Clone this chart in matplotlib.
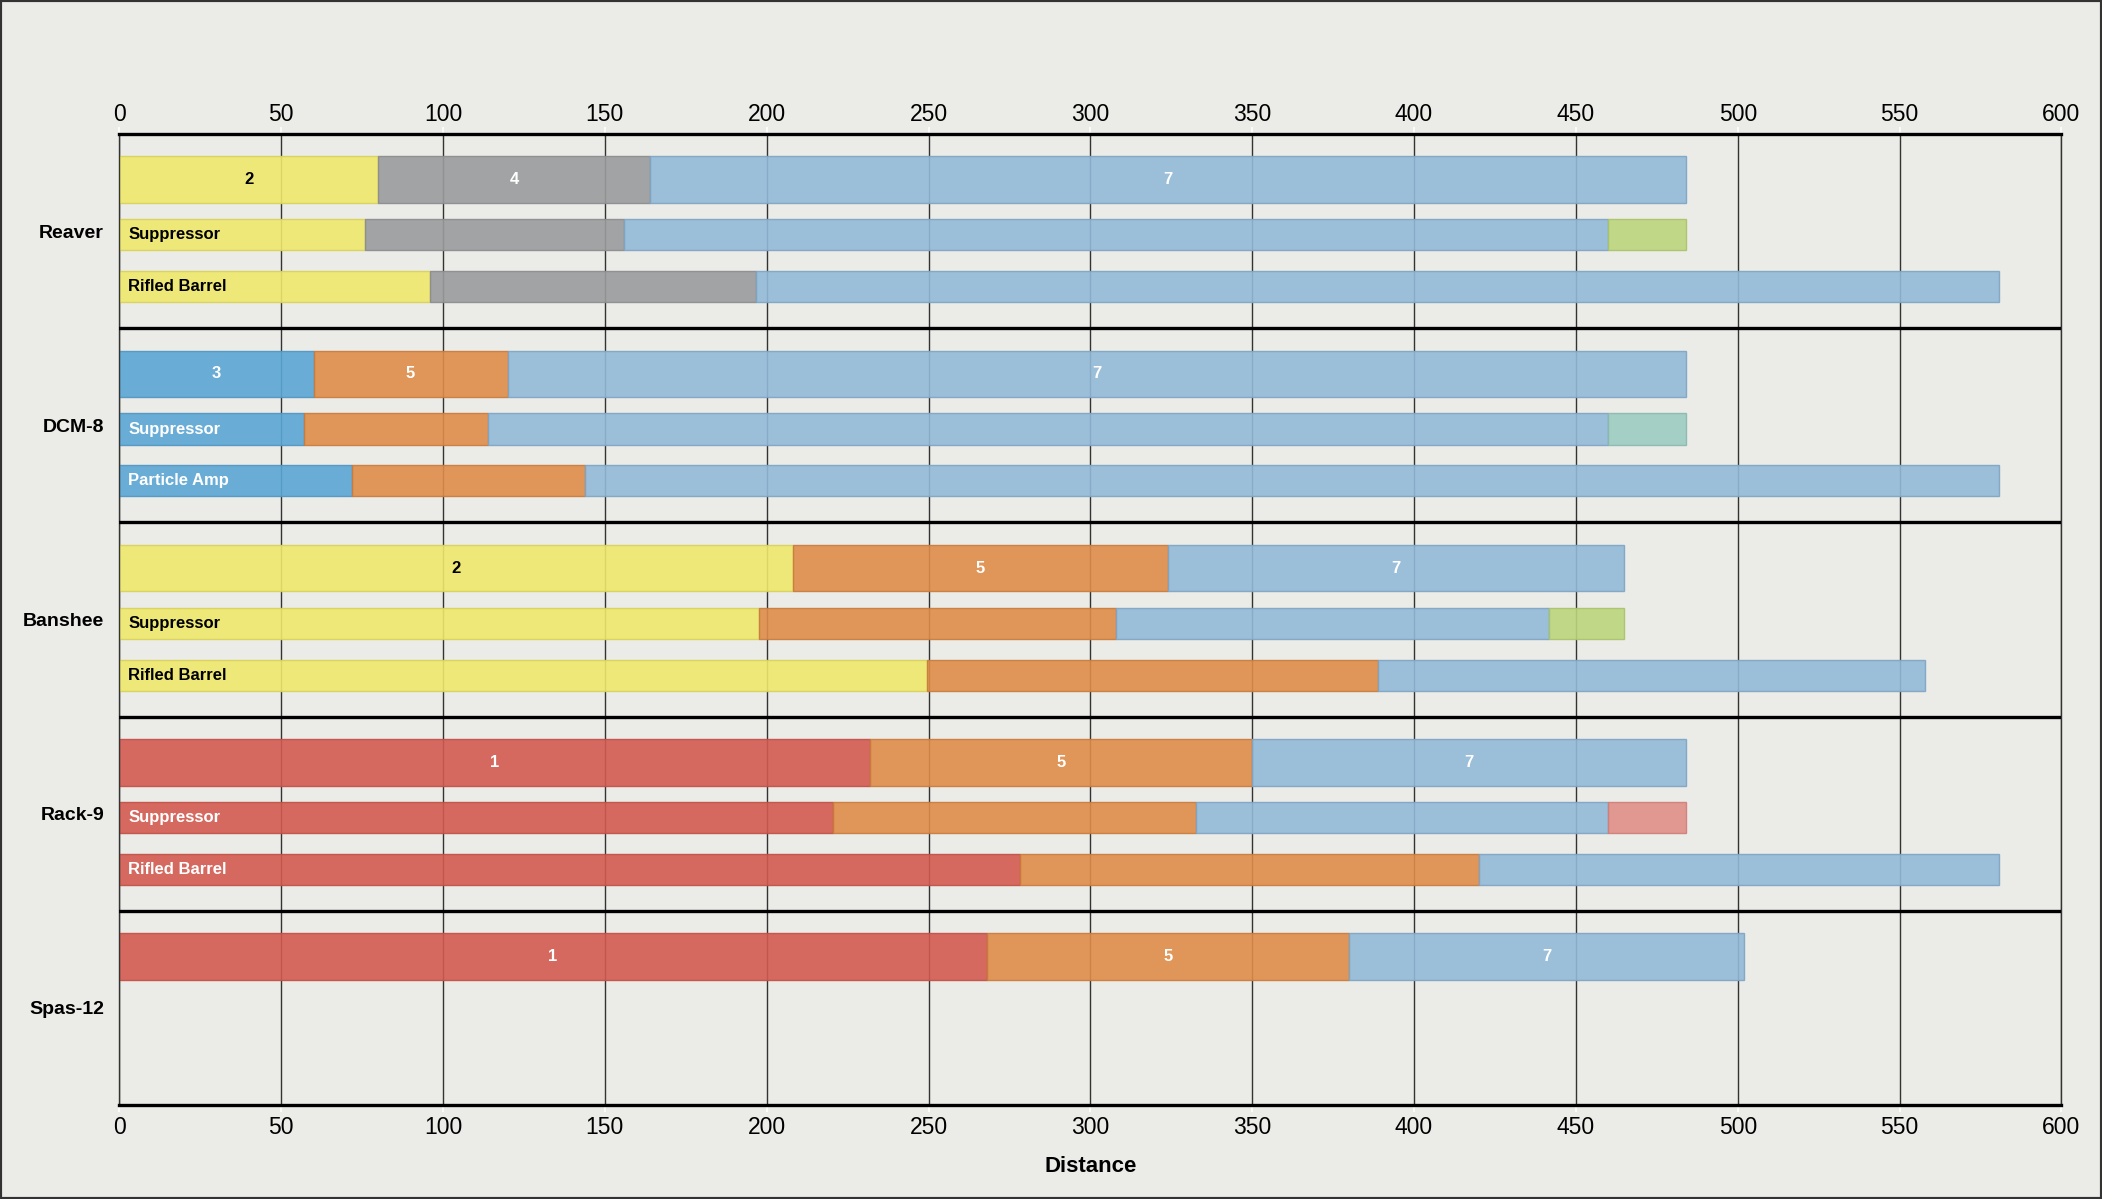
import matplotlib
matplotlib.use("Agg")
import matplotlib.pyplot as plt
from matplotlib.patches import Rectangle

plt.rcParams['font.family'] = ['Liberation Sans', 'DejaVu Sans']

# ---------------- data ----------------
groups = ["Reaver", "DCM-8", "Banshee", "Rack-9", "Spas-12"]

# cumulative range end-points for each row (segments start at previous end-point)
reaver_base = [80, 164, 484]
reaver_suppressor = [76, 155.8, 459.8, 484]
reaver_rifled = [96, 196.8, 580.8]

dcm8_base = [60, 120, 484]
dcm8_suppressor = [57, 114, 459.8, 484]
dcm8_particle = [72, 144, 580.8]

banshee_base = [208, 324, 465]
banshee_suppressor = [197.6, 307.8, 441.75, 465]
banshee_rifled = [249.6, 388.8, 558]

rack9_base = [232, 350, 484]
rack9_suppressor = [220.4, 332.5, 459.8, 484]
rack9_rifled = [278.4, 420, 580.8]

spas12_base = [268, 380, 502]

# damage tier shown on the base bar segments
reaver_tiers = ["2", "4", "7"]
dcm8_tiers = ["3", "5", "7"]
banshee_tiers = ["2", "5", "7"]
rack9_tiers = ["1", "5", "7"]
spas12_tiers = ["1", "5", "7"]

row_labels = {
    "Reaver": ["", "Suppressor", "Rifled Barrel"],
    "DCM-8": ["", "Suppressor", "Particle Amp"],
    "Banshee": ["", "Suppressor", "Rifled Barrel"],
    "Rack-9": ["", "Suppressor", "Rifled Barrel"],
    "Spas-12": [""],
}

x_ticks = list(range(0, 601, 50))

# ---------------- styles ----------------
YEL = "#eee86c"; GRY = "#9a9c9d"; LBL = "#92b9d8"; BLU = "#5ba7d5"
ORG = "#de8d48"; RED = "#d35b50"; GRN = "#bcd57e"; TEA = "#9dccc2"; PNK = "#df8f88"
EDGE = {YEL: "#d9d15a", GRY: "#8a8c8d", LBL: "#7ea4c4", BLU: "#4f95c2",
        ORG: "#c97b3c", RED: "#c24f45", GRN: "#a9c26a", TEA: "#8ab8ae", PNK: "#cf7d76"}

group_rows = {
    "Reaver": [reaver_base, reaver_suppressor, reaver_rifled],
    "DCM-8": [dcm8_base, dcm8_suppressor, dcm8_particle],
    "Banshee": [banshee_base, banshee_suppressor, banshee_rifled],
    "Rack-9": [rack9_base, rack9_suppressor, rack9_rifled],
    "Spas-12": [spas12_base],
}
group_tiers = {"Reaver": reaver_tiers, "DCM-8": dcm8_tiers, "Banshee": banshee_tiers,
               "Rack-9": rack9_tiers, "Spas-12": spas12_tiers}
group_colors = {
    "Reaver": [YEL, GRY, LBL, GRN],
    "DCM-8": [BLU, ORG, LBL, TEA],
    "Banshee": [YEL, ORG, LBL, GRN],
    "Rack-9": [RED, ORG, LBL, PNK],
    "Spas-12": [RED, ORG, LBL, PNK],
}

row_offsets = [0.2355, 0.519, 0.786]
row_heights = [0.24, 0.16, 0.16]

BG = "#ebebe7"

fig = plt.figure(figsize=(21.02, 11.99), dpi=100)
fig.patch.set_facecolor(BG)
ax = fig.add_axes([0.05676, 0.0784, 0.92394, 0.8098])
ax.set_facecolor(BG)
ax.set_xlim(0, 600)
ax.set_ylim(len(groups), 0)

ax.set_axisbelow(True)
ax.xaxis.grid(True, color="#333333", lw=1.0)
ax.yaxis.grid(False)

for gi, g in enumerate(groups):
    rows = group_rows[g]
    cols = group_colors[g]
    for ri, ends in enumerate(rows):
        y = gi + row_offsets[ri]
        h = row_heights[ri]
        start = 0
        for si, end in enumerate(ends):
            c = cols[si]
            ax.barh(y, end - start, left=start, height=h, color=c,
                    edgecolor=EDGE[c], linewidth=1.0, alpha=0.9, zorder=2)
            if ri == 0:
                tc = "black" if c == YEL else "white"
                ax.text((start + end) / 2, y, group_tiers[g][si], ha="center",
                        va="center", fontsize=12, fontweight="bold", color=tc, zorder=4)
            start = end
        lab = row_labels[g][ri]
        if lab:
            tc = "black" if cols[0] == YEL else "white"
            ax.annotate(lab, xy=(0, y), xytext=(6.5, 0), textcoords="offset points",
                        ha="left", va="center", fontsize=12, fontweight="bold",
                        color=tc, zorder=4)

for gi in range(1, len(groups)):
    ax.axhline(gi, color="black", lw=2.4, zorder=3)

for s in ["top", "bottom"]:
    ax.spines[s].set_color("black")
    ax.spines[s].set_linewidth(2.4)
for s in ["left", "right"]:
    ax.spines[s].set_color("#333333")
    ax.spines[s].set_linewidth(1.0)

ax.set_xticks(x_ticks)
ax.tick_params(axis="x", which="both", top=False, labeltop=False, bottom=True,
               labelbottom=True, direction="out", length=5, width=1.2,
               color="white", labelsize=16.5, pad=3)

secax = ax.secondary_xaxis("top")
secax.set_xticks(x_ticks)
secax.spines["top"].set_visible(False)
secax.tick_params(axis="x", direction="out", length=5, width=1.2,
                  color="white", labelsize=16.5, pad=1)

ax.set_yticks([gi + 0.5 for gi in range(len(groups))])
ax.set_yticklabels(groups, fontsize=14, fontweight="bold")
ax.tick_params(axis="y", length=0, pad=11)

ax.set_xlabel("Distance", fontsize=16, fontweight="bold", labelpad=12)

fig.add_artist(Rectangle((0, 0), 1, 1, transform=fig.transFigure, fill=False,
                         edgecolor="#333333", lw=3))

fig.savefig("out.png", dpi=100, facecolor=BG)
